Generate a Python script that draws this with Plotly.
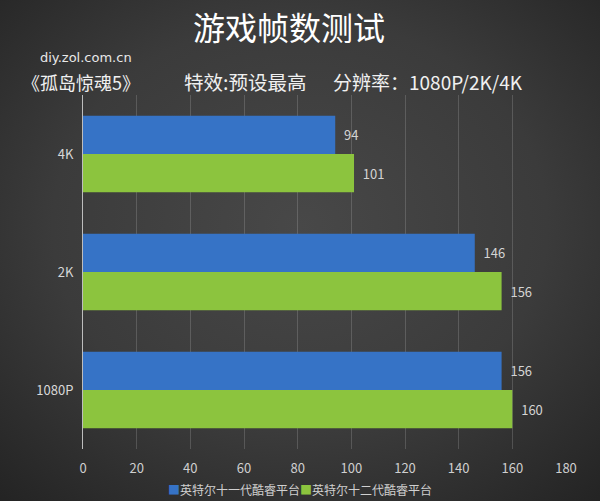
import plotly.graph_objects as go

categories = ["4K", "2K", "1080P"]
series_names = ["英特尔十一代酷睿平台", "英特尔十二代酷睿平台"]
gen11 = [94, 146, 156]
gen12 = [101, 156, 160]
x_ticks = [0, 20, 40, 60, 80, 100, 120, 140, 160, 180]
series_colors = ["#3673c6", "#8cc43e"]

W, H = 600, 501
L, R, T, B = 83, 34, 95, 52
PW, PH = W - L - R, H - T - B

def px(x):
    return (x - L) / PW

def py(y):
    return 1 - (y - T) / PH

CJK = "Noto Sans CJK SC, Noto Sans, sans-serif"

bg_svg = (
    "data:image/svg+xml;utf8,"
    "<svg xmlns='http://www.w3.org/2000/svg' width='600' height='501'>"
    "<defs><radialGradient id='g' cx='50%25' cy='45%25' r='75%25'>"
    "<stop offset='0%25' stop-color='%23484848'/>"
    "<stop offset='55%25' stop-color='%233b3b3b'/>"
    "<stop offset='100%25' stop-color='%23232323'/>"
    "</radialGradient></defs>"
    "<rect width='600' height='501' fill='url(%23g)'/></svg>"
)

fig = go.Figure()
for name, vals, col in [(series_names[0], gen11, series_colors[0]),
                        (series_names[1], gen12, series_colors[1])]:
    fig.add_trace(go.Bar(
        y=categories, x=vals, name=name, orientation="h",
        marker=dict(color=col, line=dict(width=0)),
        text=vals, texttemplate="  %{x}", textposition="outside", cliponaxis=False,
        textfont=dict(color="#d4d4d4", size=13, family=CJK),
    ))

legend_text = "".join(
    f"<span style='color:{c}'>■</span>{n}" for n, c in zip(series_names, series_colors)
)

annotations = [
    dict(text="游戏帧数测试", x=px(289), y=py(26), font=dict(size=32, color="#ffffff", family=CJK)),
    dict(text="diy.zol.com.cn", x=px(86), y=py(58), font=dict(size=13, color="#e8e8e8", family="DejaVu Sans, sans-serif")),
    dict(text="《孤岛惊魂5》", x=px(81), y=py(82), font=dict(size=18, color="#f0f0f0", family=CJK)),
    dict(text="特效:预设最高", x=px(245), y=py(82), font=dict(size=19.5, color="#f0f0f0", family=CJK)),
    dict(text="分辨率：1080P/2K/4K", x=px(428), y=py(82), font=dict(size=19, color="#f0f0f0", family=CJK)),
    dict(text=legend_text, x=px(300), y=py(489), font=dict(size=12, color="#d0d0d0", family=CJK)),
]
for a in annotations:
    a.update(xref="paper", yref="paper", showarrow=False, xanchor="center", yanchor="middle")

fig.update_layout(
    width=W, height=H,
    margin=dict(l=L, r=R, t=T, b=B, autoexpand=False),
    paper_bgcolor="#3a3a3a", plot_bgcolor="rgba(0,0,0,0)",
    barmode="group", bargap=0.35, bargroupgap=0,
    showlegend=False,
    annotations=annotations,
    images=[dict(source=bg_svg, xref="paper", yref="paper",
                 x=px(0), y=py(0), sizex=W / PW, sizey=H / PH,
                 xanchor="left", yanchor="top", sizing="stretch", layer="below")],
    font=dict(family=CJK, color="#d0d0d0"),
)
fig.update_xaxes(range=[0, 180], tickvals=x_ticks, showgrid=True,
                 gridcolor="rgba(200,200,200,0.22)", gridwidth=1, zeroline=False,
                 showline=False, tickfont=dict(size=13, color="#cfcfcf"), ticklen=0,
                 ticklabelstandoff=10)
fig.update_yaxes(categoryorder="array", categoryarray=categories, autorange="reversed",
                 showgrid=False, showline=True, linecolor="#bdbdbd", linewidth=1,
                 tickfont=dict(size=13, color="#d8d8d8"), ticks="", ticklabelstandoff=6)

fig.write_html("out.html", config={"displayModeBar": False},
               post_script="document.body.style.margin='0';")
